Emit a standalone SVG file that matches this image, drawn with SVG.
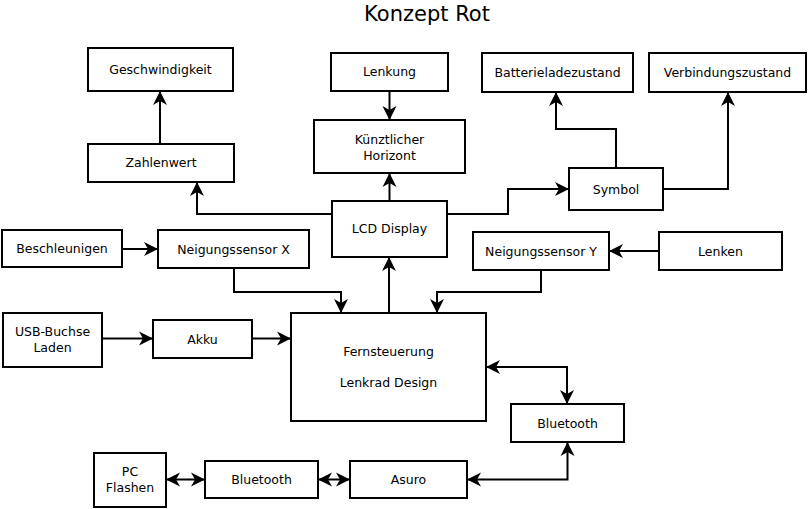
<svg xmlns="http://www.w3.org/2000/svg" width="809" height="509" viewBox="0 0 809 509">
<style>
.box{fill:#fff;stroke:#000;stroke-width:2}
.t{font-family:"DejaVu Sans",sans-serif;font-size:12.5px;fill:#000;text-anchor:middle}
.title{font-family:"DejaVu Sans",sans-serif;font-size:21px;fill:#000;text-anchor:middle}
.c{fill:none;stroke:#000;stroke-width:2}
.a{marker-end:url(#ah)}
.d{marker-start:url(#ah);marker-end:url(#ah)}
</style>
<defs>
<marker id="ah" markerUnits="userSpaceOnUse" markerWidth="14" markerHeight="14" refX="13" refY="7" orient="auto-start-reverse" overflow="visible">
<path d="M14,7 L0,0 L4,7 L0,14 Z" fill="#000"/>
</marker>
</defs>
<rect width="809" height="509" fill="#fff"/>
<text class="title" x="427" y="21">Konzept Rot</text>
<g id="connectors">
<path class="c a" d="M160,144 V92"/>
<path class="c a" d="M389.5,91 V119"/>
<path class="c a" d="M389.5,201 V174"/>
<path class="c a" d="M332,214 H197 V183"/>
<path class="c a" d="M447,214 H508 V189 H568"/>
<path class="c a" d="M616,168 V129 H556 V93"/>
<path class="c a" d="M663,189 H728 V93"/>
<path class="c a" d="M122,249 H157"/>
<path class="c a" d="M234,268 V292 H341 V312"/>
<path class="c a" d="M541,270 V292 H437 V312"/>
<path class="c a" d="M659,251 H610"/>
<path class="c a" d="M389,313 V258"/>
<path class="c a" d="M102,338.5 H152"/>
<path class="c a" d="M252,338.5 H290"/>
<path class="c d" d="M487,367 H567 V403"/>
<path class="c d" d="M468,479.5 H567.5 V443"/>
<path class="c d" d="M167,479.5 H204"/>
<path class="c d" d="M319,479.5 H349"/>
</g>
<g id="n-geschwindigkeit"><rect class="box" x="88" y="48" width="145" height="43"/><text class="t" x="160.5" y="73.5">Geschwindigkeit</text></g>
<g id="n-zahlenwert"><rect class="box" x="88" y="144" width="146" height="38"/><text class="t" x="161" y="167">Zahlenwert</text></g>
<g id="n-lenkung"><rect class="box" x="331" y="53" width="117" height="38"/><text class="t" x="389.5" y="76">Lenkung</text></g>
<g id="n-horizont"><rect class="box" x="314" y="120" width="151" height="53"/><text class="t" x="389.5" y="143.5">Künztlicher</text><text class="t" x="389.5" y="160">Horizont</text></g>
<g id="n-batterie"><rect class="box" x="482" y="53" width="151" height="39"/><text class="t" x="557.5" y="77">Batterieladezustand</text></g>
<g id="n-verbindung"><rect class="box" x="649" y="53" width="157" height="39"/><text class="t" x="727.5" y="77">Verbindungszustand</text></g>
<g id="n-symbol"><rect class="box" x="569" y="168" width="94" height="42"/><text class="t" x="616" y="193.5">Symbol</text></g>
<g id="n-lcd"><rect class="box" x="332" y="201" width="115" height="56"/><text class="t" x="389.5" y="233">LCD Display</text></g>
<g id="n-beschleunigen"><rect class="box" x="2" y="230" width="120" height="37"/><text class="t" x="62" y="253">Beschleunigen</text></g>
<g id="n-neigx"><rect class="box" x="158" y="230" width="151" height="38"/><text class="t" x="233.5" y="253.5">Neigungssensor X</text></g>
<g id="n-neigy"><rect class="box" x="473" y="232" width="136" height="38"/><text class="t" x="541" y="255.5">Neigungssensor Y</text></g>
<g id="n-lenken"><rect class="box" x="659" y="232" width="123" height="38"/><text class="t" x="720.5" y="255.5">Lenken</text></g>
<g id="n-usb"><rect class="box" x="3" y="313" width="99" height="54"/><text class="t" x="52.5" y="336">USB-Buchse</text><text class="t" x="52.5" y="352">Laden</text></g>
<g id="n-akku"><rect class="box" x="153" y="320" width="99" height="38"/><text class="t" x="202.5" y="343.5">Akku</text></g>
<g id="n-fernsteuerung"><rect class="box" x="291" y="313" width="195" height="108"/><text class="t" x="388.5" y="355.5">Fernsteuerung</text><text class="t" x="388.5" y="386.5">Lenkrad Design</text></g>
<g id="n-bluetooth-r"><rect class="box" x="511" y="404" width="113" height="38"/><text class="t" x="567.5" y="427.5">Bluetooth</text></g>
<g id="n-pc"><rect class="box" x="94" y="453" width="72" height="54"/><text class="t" x="130" y="476">PC</text><text class="t" x="130" y="492">Flashen</text></g>
<g id="n-bluetooth-l"><rect class="box" x="205" y="461" width="113" height="37"/><text class="t" x="261.5" y="484">Bluetooth</text></g>
<g id="n-asuro"><rect class="box" x="350" y="461" width="117" height="37"/><text class="t" x="408.5" y="484">Asuro</text></g>
</svg>
